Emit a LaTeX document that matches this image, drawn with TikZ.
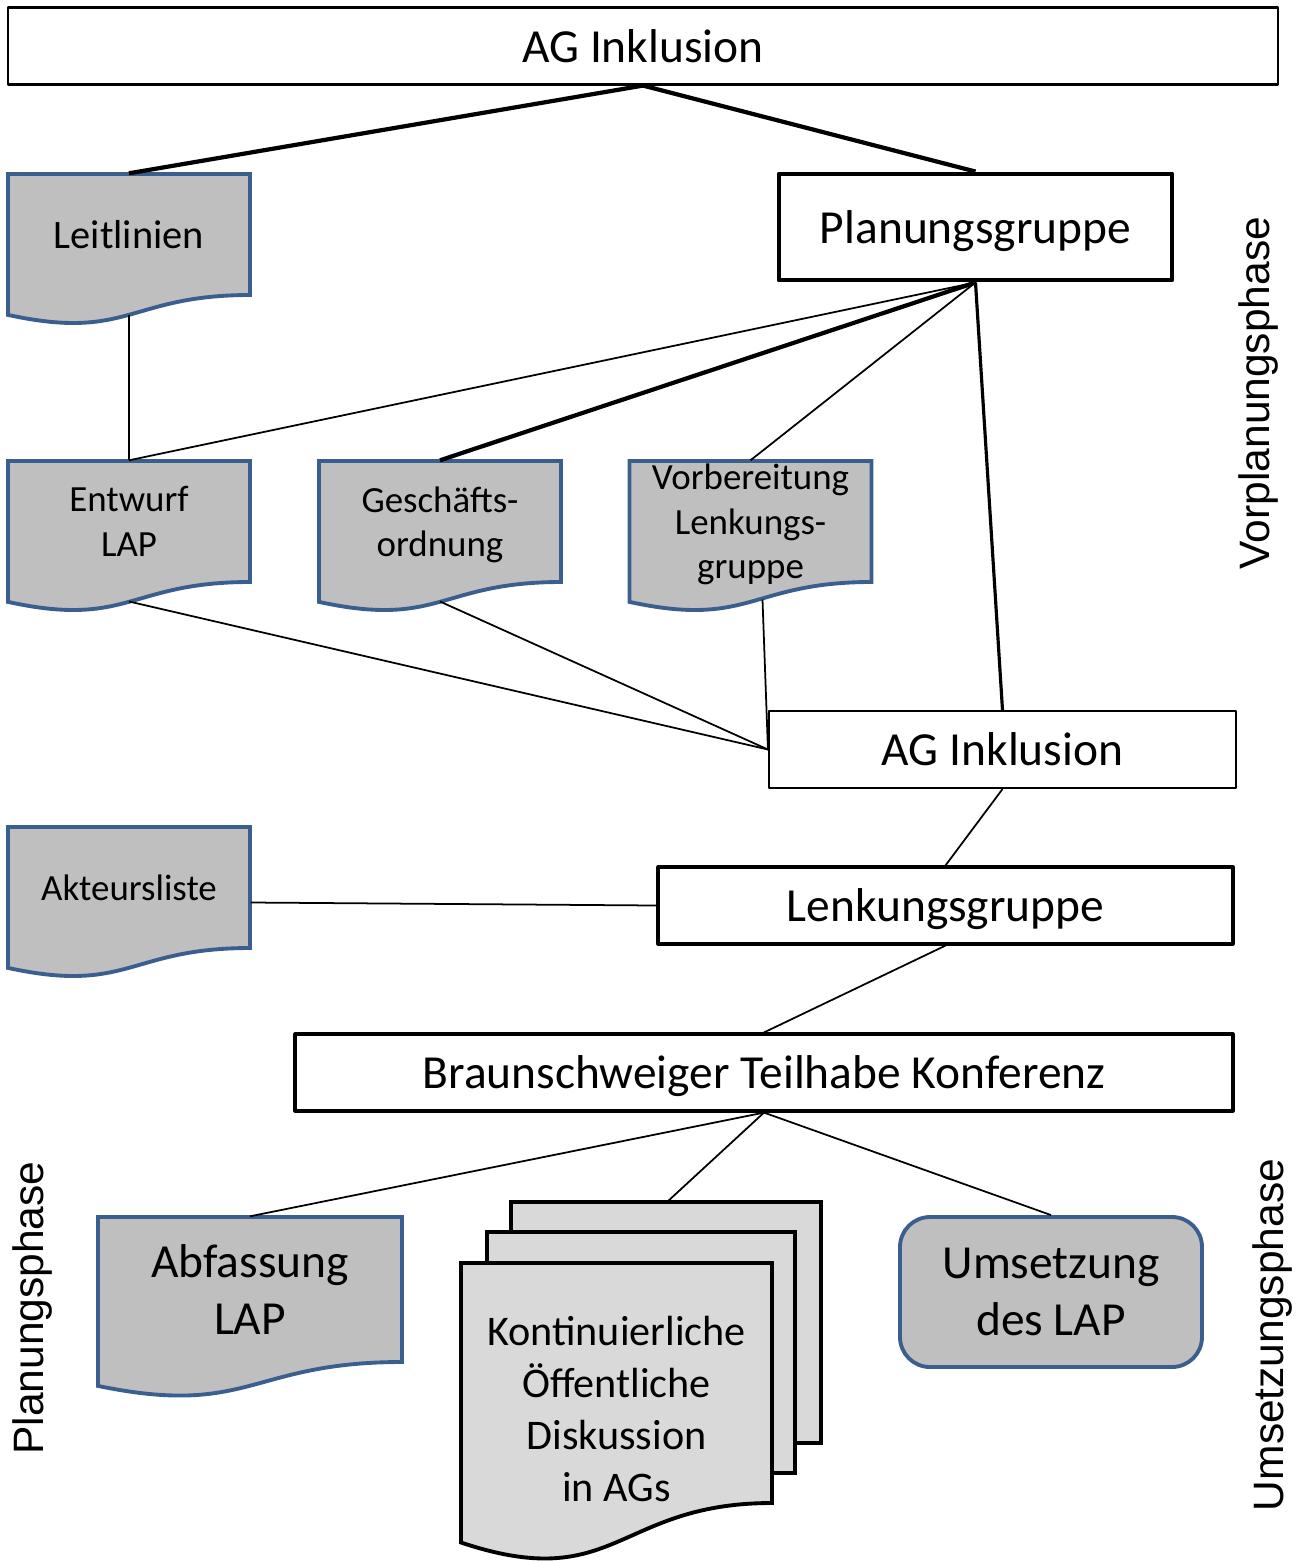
\documentclass[tikz,border=0pt]{standalone}
\usepackage{fontspec}
\setmainfont{Carlito}
\newfontfamily\phasefont{Liberation Sans}
\usepackage{tikz}
\usepackage{xcolor}
\usetikzlibrary{calc,backgrounds}

\definecolor{docblue}{HTML}{3A5F8F}
\definecolor{docgray}{HTML}{BFBFBF}
\definecolor{stackgray}{HTML}{D9D9D9}

\begin{document}
\begin{tikzpicture}[line join=round,
  plainbox/.style={draw, fill=white, minimum height=0.77cm, inner sep=0pt, text depth=0pt, font=\fontsize{13.5}{16.2}\selectfont},
  docbox/.style={minimum width=2.42cm, minimum height=1.21cm, inner sep=0pt, text depth=0pt, align=center, font=\fontsize{10.5}{12.7}\selectfont},
  docline/.style={draw=docblue, fill=docgray, line width=1.1pt},
  stackline/.style={draw=black, fill=stackgray, line width=1.1pt},
  phase/.style={rotate=90, inner sep=0pt, font=\phasefont\fontsize{12.1}{14}\selectfont},
  conn/.style={line width=0.5pt},
  connmid/.style={line width=0.9pt},
  connbold/.style={line width=1.2pt}]
\useasboundingbox (0,0) rectangle (13.11,-15.61);

% boxes
\node[plainbox, minimum width=12.70cm, line width=0.6pt] (agtop) at (6.43,-0.46) {AG Inklusion};
\node[plainbox, minimum width=3.93cm, minimum height=1.06cm, line width=1.4pt] (planung) at (9.755,-2.27) {Planungsgruppe};
\node[plainbox, minimum width=4.67cm, line width=0.6pt] (agmid) at (10.025,-7.495) {AG Inklusion};
\node[plainbox, minimum width=5.75cm, line width=0.9pt] (lenk) at (9.455,-9.055) {Lenkungsgruppe};
\node[plainbox, minimum width=9.38cm, line width=0.9pt] (btk) at (7.64,-10.725) {Braunschweiger Teilhabe Konferenz};

% documents
\node[docbox, font=\fontsize{11.5}{14}\selectfont] (leit) at (1.29,-2.345) {Leitlinien};
\node[docbox] (entwurf) at (1.29,-5.215) {Entwurf\\LAP};
\node[docbox] (gesch) at (4.40,-5.215) {Geschäfts-\\ordnung};
\node[docbox] (vorb) at (7.505,-5.215) {Vorbereitung\\Lenkungs-\\gruppe};
\node[docbox] (akteur) at (1.29,-8.875) {Akteursliste};
\node[docbox, minimum width=3.04cm, minimum height=1.45cm, font=\fontsize{13.5}{16.2}\selectfont] (abf) at (2.50,-12.895) {Abfassung\\LAP};
\node[docbox, minimum width=3.11cm, minimum height=1.88cm, font=\fontsize{12}{14.8}\selectfont] (kont) at (6.165,-14.09) {Kontinuierliche\\Öffentliche\\Diskussion\\in AGs};
\node[draw=docblue, fill=docgray, line width=1.1pt, rounded corners=0.3cm, minimum width=3.02cm, minimum height=1.50cm, align=center, font=\fontsize{13.5}{16.2}\selectfont] (umsetz) at (10.51,-12.92) {Umsetzung\\des LAP};

% phases
\node[phase] (vorphase) at (12.58,-3.93) {Vorplanungsphase};
\node[phase] (planphase) at (0.33,-13.08) {Planungsphase};
\node[phase] (umphase) at (12.72,-13.35) {Umsetzungsphase};

% document outlines
\begin{scope}[on background layer]
\foreach \n in {leit,entwurf,gesch,vorb,akteur} {
  \path[docline] ($(\n.center)+(-1.21,0.605)$) -- ($(\n.center)+(1.21,0.605)$) -- ($(\n.center)+(1.21,-0.605)$)
    .. controls ($(\n.center)+(0,-0.605)$) and ($(\n.center)+(0,-1.067)$) .. ($(\n.center)+(-1.21,-0.804)$) -- cycle;
  \coordinate (\n-b) at ($(\n.center)+(0,-0.80)$);
}
\path[docline] ($(abf.center)+(-1.52,0.725)$) -- ($(abf.center)+(1.52,0.725)$) -- ($(abf.center)+(1.52,-0.725)$)
  .. controls ($(abf.center)+(0,-0.725)$) and ($(abf.center)+(0,-1.278)$) .. ($(abf.center)+(-1.52,-0.964)$) -- cycle;
% stacked sheets
\path[stackline] ($(kont.center)+(-1.055,2.07)$) rectangle ($(kont.center)+(2.045,-0.34)$);
\path[stackline] ($(kont.center)+(-1.295,1.77)$) rectangle ($(kont.center)+(1.785,-0.64)$);
\path[stackline] ($(kont.center)+(-1.555,1.46)$) -- ($(kont.center)+(1.555,1.46)$) -- ($(kont.center)+(1.555,-0.94)$)
  .. controls ($(kont.center)+(0,-0.94)$) and ($(kont.center)+(0,-1.855)$) .. ($(kont.center)+(-1.555,-1.335)$) -- cycle;
\end{scope}
\coordinate (vorb-r) at ($(vorb.center)+(0.12,-0.78)$);
\coordinate (akteur-e) at ($(akteur.east)+(0,-0.15)$);
\coordinate (kont-t) at ($(kont.center)+(0.505,2.07)$);

% connectors
\draw[connbold] (agtop.south) -- (leit.north);
\draw[connbold] (agtop.south) -- (planung.north);
\draw[connbold] (planung.south) -- (gesch.north);
\draw[connmid] (planung.south) -- (agmid.north);
\draw[conn] (planung.south) -- (entwurf.north);
\draw[conn] (planung.south) -- (vorb.north);
\draw[conn] (leit-b) -- (entwurf.north);
\draw[conn] (entwurf-b) -- (agmid.west);
\draw[conn] (gesch-b) -- (agmid.west);
\draw[conn] (vorb-r) -- (agmid.west);
\draw[conn] (agmid.south) -- (lenk.north);
\draw[conn] (akteur-e) -- (lenk.west);
\draw[conn] (lenk.south) -- (btk.north);
\draw[conn] (btk.south) -- (abf.north);
\draw[conn] (btk.south) -- (kont-t);
\draw[conn] (btk.south) -- (umsetz.north);
\end{tikzpicture}
\end{document}
